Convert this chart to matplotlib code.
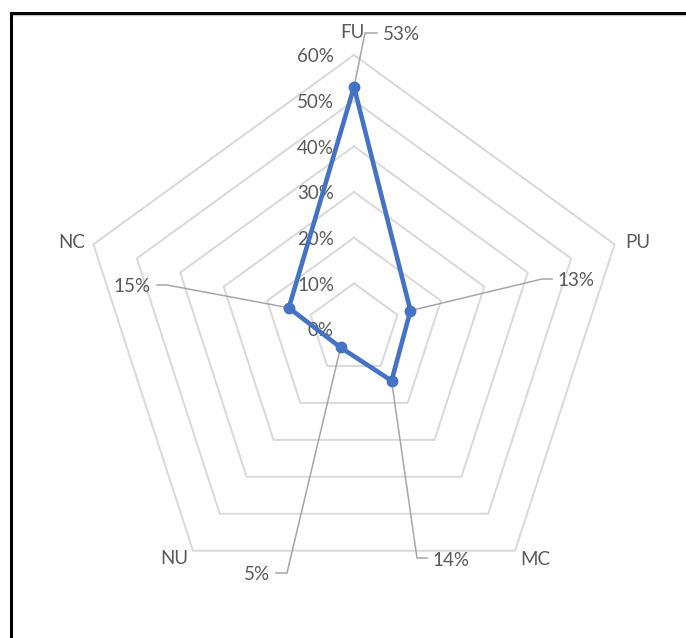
import numpy as np
import matplotlib
matplotlib.use("Agg")
import matplotlib.pyplot as plt
from matplotlib.lines import Line2D

# ---- data ----
categories = ["FU", "PU", "MC", "NU", "NC"]
shares = [0.53, 0.13, 0.14, 0.05, 0.15]
ring_levels = [0.0, 0.1, 0.2, 0.3, 0.4, 0.5, 0.6]
ring_labels = ["0%", "10%", "20%", "30%", "40%", "50%", "60%"]

# ---- layout (pixels) ----
W, H, DPI = 686, 638, 100
CX, CY = 354, 329          # centre of the web, from top-left
SCALE = 456.7              # pixels per 100 %

TEXT = "#595959"
GRID = "#D9D9D9"
LEADER = "#A6A6A6"
BLUE = "#4472C4"
FONT = ["Lato", "DejaVu Sans"]
FS = 13.5

plt.rcParams["font.family"] = FONT

fig = plt.figure(figsize=(W / DPI, H / DPI), dpi=DPI)
ax = fig.add_axes([0, 0, 1, 1])
ax.set_xlim(-CX / SCALE, (W - CX) / SCALE)
ax.set_ylim(-(H - CY) / SCALE, CY / SCALE)
ax.axis("off")


def px(x, y):
    """Pixel position (from top-left) to data coordinates."""
    return (x - CX) / SCALE, (CY - y) / SCALE


# category directions, clockwise from the top
n = len(categories)
theta = np.pi / 2 - 2 * np.pi * np.arange(n) / n


def to_xy(r):
    r = np.asarray(r, dtype=float)
    return r * np.cos(theta), r * np.sin(theta)


# pentagon gridlines
for lvl in ring_levels[1:]:
    gx, gy = to_xy([lvl] * n)
    ax.plot(np.append(gx, gx[0]), np.append(gy, gy[0]), color=GRID, lw=1.4,
            zorder=1, solid_joinstyle="miter")

# radial scale labels
for lvl, lab in zip(ring_levels, ring_labels):
    ax.text(-20 / SCALE, lvl - 2 / SCALE, lab, ha="right", va="center",
            color=TEXT, fontsize=FS, zorder=2)

# category labels, offset (pixels) from each outer vertex
cat_offsets = {"FU": (-2, -22), "PU": (23, -2), "MC": (20, 9),
               "NU": (-19, 8), "NC": (-22, -2)}
ox, oy = to_xy([ring_levels[-1]] * n)
for i, cat in enumerate(categories):
    dx, dy = cat_offsets[cat]
    ax.text(ox[i] + dx / SCALE, oy[i] - dy / SCALE, cat, ha="center",
            va="center", color=TEXT, fontsize=FS, zorder=2)

# data series
sx, sy = to_xy(shares)
ax.plot(np.append(sx, sx[0]), np.append(sy, sy[0]), color=BLUE, lw=3.3,
        zorder=4, solid_joinstyle="round")
ax.plot(sx, sy, "o", color=BLUE, ms=7.5, zorder=5)

# data labels with leader lines: elbow, line end, text anchor (pixels)
label_layout = {
    "FU": ((365, 33), (377, 33), (383, 35), "left"),
    "PU": ((542, 279), (552, 279), (557, 281), "left"),
    "MC": ((417, 558), (427, 558), (432, 561), "left"),
    "NU": ((287, 573), (276, 573), (270, 574), "right"),
    "NC": ((167, 285), (157, 285), (151, 287), "right"),
}
for i, cat in enumerate(categories):
    elbow, end, anchor, ha = label_layout[cat]
    ex, ey = px(*elbow)
    nx, ny = px(*end)
    ax.plot([sx[i], ex, nx], [sy[i], ey, ny], color=LEADER, lw=1.1, zorder=3)
    tx, ty = px(*anchor)
    ax.text(tx, ty, f"{round(shares[i] * 100)}%", ha=ha, va="center",
            color=TEXT, fontsize=FS, zorder=6)

# frame along the top and left edges
top = 1 - 13 / H
left = 11 / W
fig.add_artist(Line2D([left, 1], [top - 2.2 / H, top - 2.2 / H],
                      color="#C8C8C8", lw=1.0, transform=fig.transFigure))
fig.add_artist(Line2D([left, 1], [top, top], color="black", lw=2.2,
                      transform=fig.transFigure, solid_capstyle="projecting"))
fig.add_artist(Line2D([left, left], [0, top], color="black", lw=2.2,
                      transform=fig.transFigure, solid_capstyle="projecting"))

fig.savefig("out.png", dpi=DPI, facecolor="white")
